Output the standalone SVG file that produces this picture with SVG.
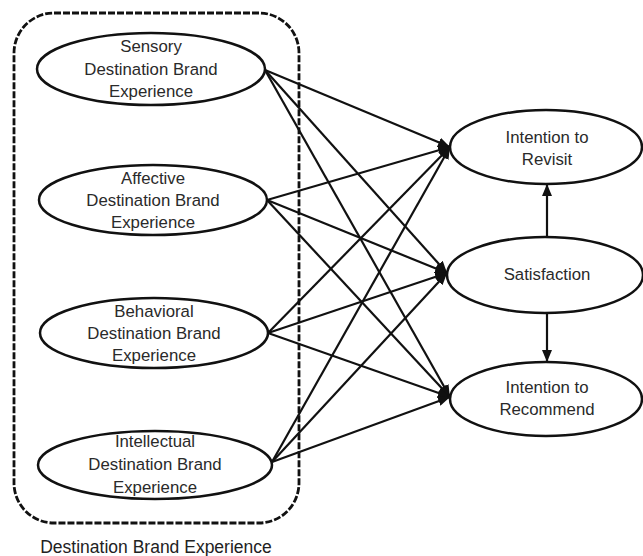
<svg xmlns="http://www.w3.org/2000/svg" width="643" height="556" viewBox="0 0 643 556">
<defs>
<marker id="ah" viewBox="0 0 12 10" refX="12" refY="5" markerWidth="12" markerHeight="10" markerUnits="userSpaceOnUse" orient="auto">
<path d="M0,0 L12,5 L0,10 Z" fill="#111"/>
</marker>
</defs>
<style>
.node ellipse{fill:#fff;stroke:#111;stroke-width:2.5}
.node text{font-family:"Liberation Sans",Arial,sans-serif;font-size:16.8px;fill:#2a2a2a;text-anchor:middle}
.conn line{stroke:#111;stroke-width:2.2;marker-end:url(#ah)}
.group{fill:none;stroke:#111;stroke-width:2.8;stroke-dasharray:7 2}
.lbl{font-family:"Liberation Sans",Arial,sans-serif;font-size:17.5px;fill:#222;text-anchor:middle}
</style>
<rect class="group" x="14" y="13" width="285" height="510" rx="40" ry="40"/>
<text class="lbl" x="156" y="553">Destination Brand Experience</text>
<g class="conn">
<line x1="265" y1="70" x2="450" y2="147"/>
<line x1="265" y1="70" x2="447" y2="273"/>
<line x1="265" y1="70" x2="450" y2="397"/>
<line x1="267" y1="200" x2="450" y2="147"/>
<line x1="267" y1="200" x2="447" y2="273"/>
<line x1="267" y1="200" x2="450" y2="397"/>
<line x1="268" y1="333" x2="450" y2="147"/>
<line x1="268" y1="333" x2="447" y2="273"/>
<line x1="268" y1="333" x2="450" y2="397"/>
<line x1="272" y1="462" x2="450" y2="147"/>
<line x1="272" y1="462" x2="447" y2="273"/>
<line x1="272" y1="462" x2="450" y2="397"/>
<line x1="547" y1="237" x2="547" y2="184"/>
<line x1="547" y1="313" x2="547" y2="362"/>
</g>
<g id="sensory" class="node">
<ellipse cx="151" cy="69" rx="114" ry="36"/>
<text x="151" y="52">Sensory</text>
<text x="151" y="75">Destination Brand</text>
<text x="151" y="97">Experience</text>
</g>
<g id="affective" class="node">
<ellipse cx="153" cy="200" rx="114" ry="35"/>
<text x="153" y="184">Affective</text>
<text x="153" y="206">Destination Brand</text>
<text x="153" y="228">Experience</text>
</g>
<g id="behavioral" class="node">
<ellipse cx="154" cy="333" rx="114" ry="35"/>
<text x="154" y="317">Behavioral</text>
<text x="154" y="339">Destination Brand</text>
<text x="154" y="361">Experience</text>
</g>
<g id="intellectual" class="node">
<ellipse cx="155" cy="465" rx="117" ry="34"/>
<text x="155" y="447">Intellectual</text>
<text x="155" y="470">Destination Brand</text>
<text x="155" y="493">Experience</text>
</g>
<g id="revisit" class="node">
<ellipse cx="546" cy="147" rx="96" ry="37"/>
<text x="547" y="143">Intention to</text>
<text x="547" y="165">Revisit</text>
</g>
<g id="satisfaction" class="node">
<ellipse cx="545" cy="275" rx="98" ry="38"/>
<text x="547" y="280">Satisfaction</text>
</g>
<g id="recommend" class="node">
<ellipse cx="546" cy="399" rx="96" ry="37"/>
<text x="547" y="393">Intention to</text>
<text x="547" y="415">Recommend</text>
</g>
</svg>
